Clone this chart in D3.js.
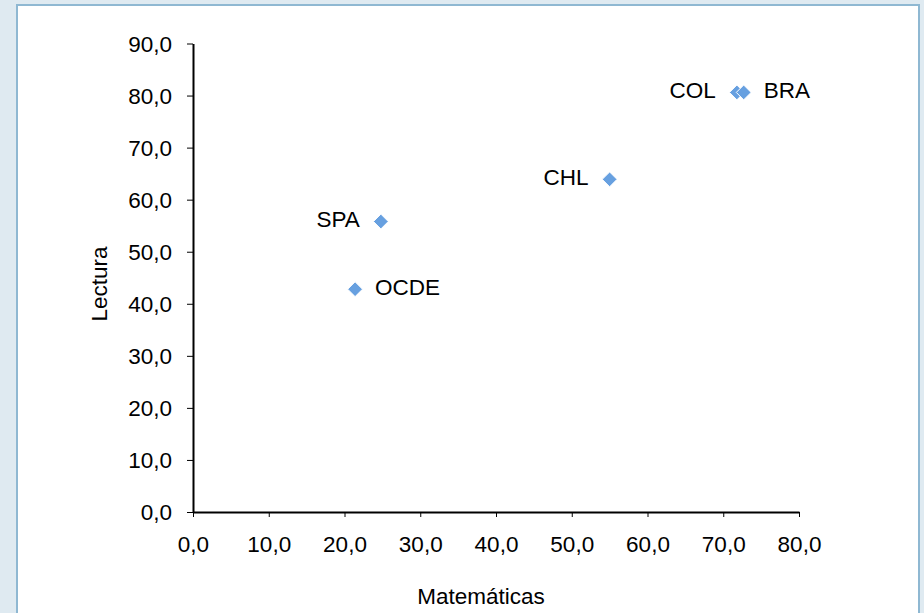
<!DOCTYPE html>
<html>
<head>
<meta charset="utf-8">
<script src="https://cdn.jsdelivr.net/npm/d3@7/dist/d3.min.js"></script>
<style>
  html, body { margin: 0; padding: 0; background: #dfeaf1; }
  svg { display: block; font-family: "Liberation Sans", Arial, sans-serif; }
</style>
</head>
<body>
<svg id="chart" width="924" height="613"></svg>
<script>
// Country codes and their scores
const countries = ["OCDE", "SPA", "CHL", "COL", "BRA"];
const matematicas = [21.4, 24.8, 55.0, 71.8, 72.7];
const lectura = [42.8, 55.8, 63.9, 80.6, 80.6];
const labelSide = ["right", "left", "left", "left", "right"];
const xTicks = [0, 10, 20, 30, 40, 50, 60, 70, 80];
const yTicks = [0, 10, 20, 30, 40, 50, 60, 70, 80, 90];

const svg = d3.select("#chart");
const fmt = v => d3.format(".1f")(v).replace(".", ",");
const FONT = "22.5px";

// white panel with blue frame
svg.append("rect")
  .attr("x", 17).attr("y", 5)
  .attr("width", 902).attr("height", 640)
  .attr("fill", "#ffffff")
  .attr("stroke", "#8fb8d2").attr("stroke-width", 2);

const x = d3.scaleLinear().domain([0, 80]).range([193, 799]);
const y = d3.scaleLinear().domain([0, 90]).range([512, 43.5]);

const xAxis = svg.append("g")
  .attr("transform", `translate(0,${y(0)})`)
  .call(d3.axisBottom(x).tickValues(xTicks).tickFormat(fmt).tickSize(5).tickSizeOuter(0));
const yAxis = svg.append("g")
  .attr("transform", `translate(${x(0)},0)`)
  .call(d3.axisLeft(y).tickValues(yTicks).tickFormat(fmt).tickSize(6).tickSizeOuter(0));

[xAxis, yAxis].forEach(g => {
  g.select(".domain").attr("stroke", "#000").attr("stroke-width", 2);
  g.selectAll(".tick line").attr("stroke", "#000").attr("stroke-width", 1);
  g.selectAll(".tick text")
    .attr("fill", "#000")
    .style("font-size", FONT)
    .style("font-family", "'Liberation Sans', Arial, sans-serif");
});
xAxis.selectAll(".tick text").attr("dy", "0").attr("y", 40);
yAxis.selectAll(".tick text").attr("x", -21).attr("dy", "0.35em");

// axis titles
svg.append("text")
  .attr("x", 481).attr("y", 604)
  .attr("text-anchor", "middle")
  .style("font-size", FONT)
  .text("Matemáticas");
svg.append("text")
  .attr("transform", `translate(107,284) rotate(-90)`)
  .attr("text-anchor", "middle")
  .style("font-size", FONT)
  .text("Lectura");

// data markers
const diamond = d3.symbol().type(d3.symbolDiamond2).size(140);
const pts = countries.map((c, i) => ({ c, mx: matematicas[i], ly: lectura[i], side: labelSide[i] }));

svg.append("g").selectAll("path")
  .data(pts)
  .join("path")
  .attr("d", diamond)
  .attr("transform", d => `translate(${x(d.mx)},${y(d.ly)})`)
  .attr("fill", "#67a0e0")
  .attr("stroke", "#ffffff")
  .attr("stroke-width", 1);

svg.append("g").selectAll("text")
  .data(pts)
  .join("text")
  .attr("x", d => x(d.mx) + (d.side === "right" ? 20 : -21))
  .attr("y", d => y(d.ly) - 2)
  .attr("dy", "0.35em")
  .attr("text-anchor", d => d.side === "right" ? "start" : "end")
  .style("font-size", FONT)
  .text(d => d.c);
</script>
</body>
</html>
